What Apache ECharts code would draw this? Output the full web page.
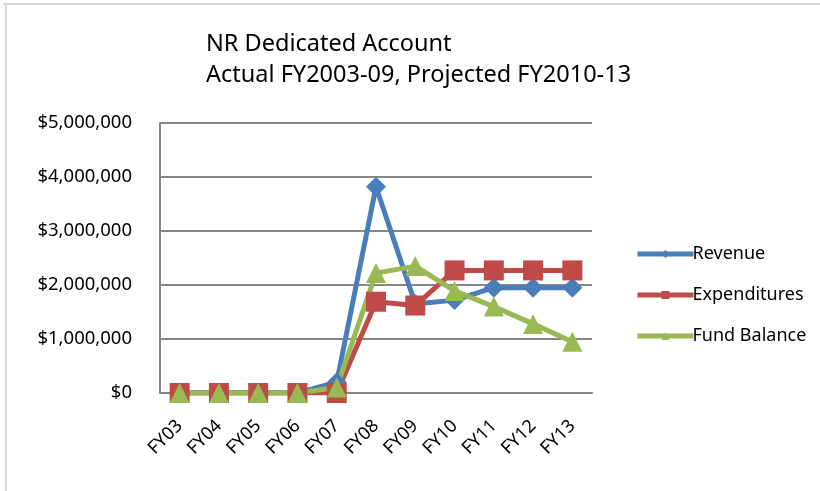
<!DOCTYPE html>
<html>
<head>
<meta charset="utf-8">
<script src="https://cdn.jsdelivr.net/npm/echarts@6/dist/echarts.min.js"></script>
<style>
  html, body { margin: 0; padding: 0; background: #fff; }
  #chart { width: 820px; height: 491px; }
</style>
</head>
<body>
<div id="chart"></div>
<script>
const years = ['FY03', 'FY04', 'FY05', 'FY06', 'FY07', 'FY08', 'FY09', 'FY10', 'FY11', 'FY12', 'FY13'];
const revenue = [0, 0, 0, 0, 200000, 3820000, 1650000, 1720000, 1950000, 1950000, 1950000];
const expenditures = [0, 0, 0, 0, 0, 1690000, 1620000, 2270000, 2270000, 2270000, 2270000];
const fundBalance = [0, 0, 0, 0, 100000, 2220000, 2350000, 1890000, 1600000, 1280000, 950000];

const font = 'Noto Sans';

const chart = echarts.init(document.getElementById('chart'));

const mkSeries = (name, data, color, symbol, size) => ({
  name: name,
  type: 'line',
  data: data,
  symbol: symbol,
  symbolSize: size,
  showAllSymbol: true,
  lineStyle: { color: color, width: 5 },
  itemStyle: { color: color },
  animation: false
});

chart.setOption({
  backgroundColor: '#fff',
  textStyle: { fontFamily: font },
  title: {
    text: 'NR Dedicated Account\nActual FY2003-09, Projected FY2010-13',
    left: 201,
    top: 24,
    textStyle: { fontFamily: font, fontSize: 23.5, fontWeight: 'normal', color: '#000', lineHeight: 31 }
  },
  legend: {
    orient: 'vertical',
    left: 630,
    top: 240,
    itemWidth: 56,
    itemHeight: 10,
    itemGap: 23,
    lineStyle: { width: 5 },
    textStyle: { fontFamily: font, fontSize: 18, color: '#000', padding: [0, 0, 0, -6] },
    data: ['Revenue', 'Expenditures', 'Fund Balance']
  },
  grid: { left: 160, right: 228, top: 123, bottom: 98 },
  xAxis: {
    type: 'category',
    data: years,
    boundaryGap: true,
    axisLine: { lineStyle: { color: '#868686', width: 2 } },
    axisTick: { show: false },
    axisLabel: { rotate: 45, color: '#000', fontSize: 18, margin: 30, interval: 0 }
  },
  yAxis: {
    type: 'value',
    min: 0,
    max: 5000000,
    interval: 1000000,
    axisLine: { show: true, lineStyle: { color: '#868686', width: 2 } },
    axisTick: { show: false },
    splitLine: { lineStyle: { color: '#868686', width: 2 } },
    axisLabel: {
      color: '#000',
      fontSize: 18.5,
      margin: 28,
      formatter: v => '$' + v.toLocaleString('en-US')
    }
  },
  graphic: [
    { type: 'line', shape: { x1: 3, y1: 4, x2: 820, y2: 4 }, style: { stroke: '#d9d9d9', lineWidth: 2 } },
    { type: 'line', shape: { x1: 6, y1: 4, x2: 6, y2: 491 }, style: { stroke: '#d9d9d9', lineWidth: 2 } }
  ],
  series: [
    mkSeries('Revenue', revenue, '#4a7ebb', 'diamond', 20),
    mkSeries('Expenditures', expenditures, '#be4b48', 'rect', 20),
    mkSeries('Fund Balance', fundBalance, '#98b954', 'triangle', 20)
  ]
});
</script>
</body>
</html>
